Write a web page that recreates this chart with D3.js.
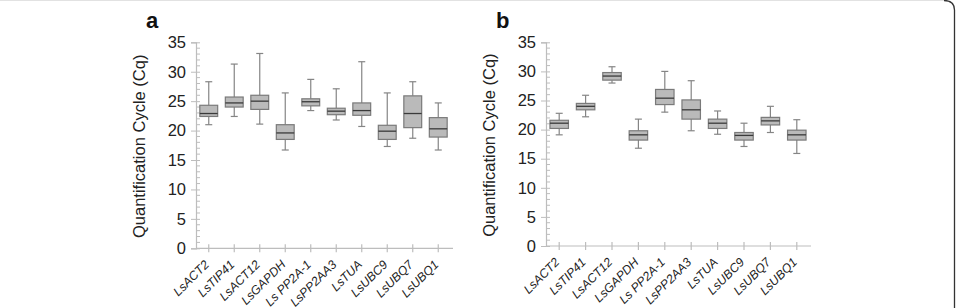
<!DOCTYPE html>
<html><head><meta charset="utf-8">
<script src="https://cdn.jsdelivr.net/npm/d3@7"></script>
<style>
html,body{margin:0;padding:0;background:#fff;}
svg text{font-family:"Liberation Sans",Arial,sans-serif;}
</style></head>
<body><svg id="c" width="959" height="308"></svg>
<script>
const categories = ["LsACT2","LsTIP41","LsACT12","LsGAPDH","Ls PP2A-1","LsPP2AA3","LsTUA","LsUBC9","LsUBQ7","LsUBQ1"];
// panel a: [whisker low, Q1, median, Q3, whisker high]
const aMin = [21.0, 22.4, 21.1, 16.7, 23.4, 21.8, 20.7, 17.3, 18.7, 16.7];
const aQ1  = [22.4, 24.0, 23.6, 18.5, 24.2, 22.7, 22.6, 18.5, 20.5, 18.9];
const aMed = [22.9, 24.7, 25.0, 19.6, 24.9, 23.3, 23.4, 19.9, 22.9, 20.3];
const aQ3  = [24.3, 25.7, 26.0, 21.0, 25.4, 23.8, 24.7, 20.9, 25.9, 22.2];
const aMax = [28.3, 31.3, 33.1, 26.4, 28.7, 27.1, 31.7, 26.4, 28.3, 24.7];
// panel b
const bMin = [19.1, 22.2, 28.0, 16.8, 23.0, 19.8, 19.2, 17.1, 19.5, 15.9];
const bQ1  = [20.2, 23.4, 28.5, 18.2, 24.3, 21.8, 20.2, 18.2, 20.8, 18.2];
const bMed = [21.1, 24.0, 29.2, 19.1, 25.4, 23.4, 21.1, 19.0, 21.5, 19.1];
const bQ3  = [21.6, 24.5, 29.8, 19.8, 26.9, 25.1, 21.8, 19.5, 22.1, 19.9];
const bMax = [22.8, 25.9, 30.8, 21.8, 30.0, 28.4, 23.2, 21.1, 24.0, 21.7];
const yTicks = [0,5,10,15,20,25,30,35];
const yLabel = "Quantification  Cycle  (Cq)";

const svg = d3.select("#c");
// frame
svg.append("line").attr("x1",0).attr("x2",946).attr("y1",0.5).attr("y2",0.5).attr("stroke","#e2e2e2").attr("stroke-width",1);
svg.append("path").attr("d","M944,0.5 Q954.5,0.5 954.5,10 L954.5,308").attr("fill","none").attr("stroke","#333").attr("stroke-width",1.3);

function panel(opts){
  const {x0,x1,axisEnd,y0,y35,letter,mins,q1,med,q3,maxs} = opts;
  const g = svg.append("g");
  const y = d3.scaleLinear().domain([0,35]).range([y0,y35]);
  const x = d3.scaleBand().domain(categories).range([x0,x1]);
  const axisCol = "#bdbdbd";
  // minor ticks
  const minor = d3.range(0,36,1).filter(v=>v%5!==0);
  g.selectAll(".mn").data(minor).enter().append("line")
    .attr("x1",x0).attr("x2",x0+4).attr("y1",d=>y(d)).attr("y2",d=>y(d))
    .attr("stroke",axisCol).attr("stroke-width",1);
  // y axis
  const ya = g.append("g").attr("transform",`translate(${x0},0)`)
    .call(d3.axisLeft(y).tickValues(yTicks).tickSize(5).tickPadding(5));
  ya.select(".domain").attr("stroke",axisCol).attr("stroke-width",1.2);
  ya.selectAll(".tick line").attr("stroke",axisCol).attr("x2",-5).attr("x1",4);
  ya.selectAll("text").attr("font-size",16.5).attr("fill","#222")
    .attr("font-family","Liberation Sans, Arial, sans-serif");
  // x axis
  g.append("line").attr("x1",x0).attr("x2",axisEnd).attr("y1",y0).attr("y2",y0)
    .attr("stroke",axisCol).attr("stroke-width",1.2);
  g.selectAll(".xt").data(categories).enter().append("line")
    .attr("x1",d=>x(d)+x.bandwidth()/2).attr("x2",d=>x(d)+x.bandwidth()/2)
    .attr("y1",y0-4).attr("y2",y0+4).attr("stroke",axisCol).attr("stroke-width",1.2);
  g.selectAll(".xl").data(categories).enter().append("text")
    .attr("transform",d=>`translate(${x(d)+x.bandwidth()/2+1},${y0+17}) rotate(-45)`)
    .attr("text-anchor","end").attr("font-size",12.3).attr("font-style","italic").attr("fill","#222")
    .text(d=>d);
  // y label
  g.append("text").attr("transform",`translate(${x0-51},${(y0+y35)/2+1}) rotate(-90)`)
    .attr("text-anchor","middle").attr("font-size",16.5).attr("fill","#222").text(yLabel);
  // letter
  g.append("text").attr("x",x0-50).attr("y",28).attr("font-size",22).attr("font-weight","bold")
    .attr("fill","#111").text(letter);
  // boxes
  const bw = x.bandwidth()*0.7, cw = 7;
  categories.forEach((c,i)=>{
    const cx = x(c)+x.bandwidth()/2;
    const col = "#858585";
    g.append("line").attr("x1",cx).attr("x2",cx).attr("y1",y(maxs[i])).attr("y2",y(q3[i])).attr("stroke",col).attr("stroke-width",1.2);
    g.append("line").attr("x1",cx).attr("x2",cx).attr("y1",y(q1[i])).attr("y2",y(mins[i])).attr("stroke",col).attr("stroke-width",1.2);
    g.append("line").attr("x1",cx-cw/2).attr("x2",cx+cw/2).attr("y1",y(maxs[i])).attr("y2",y(maxs[i])).attr("stroke",col).attr("stroke-width",1.2);
    g.append("line").attr("x1",cx-cw/2).attr("x2",cx+cw/2).attr("y1",y(mins[i])).attr("y2",y(mins[i])).attr("stroke",col).attr("stroke-width",1.2);
    g.append("rect").attr("x",cx-bw/2).attr("width",bw).attr("y",y(q3[i])).attr("height",y(q1[i])-y(q3[i]))
      .attr("fill","#bababa").attr("stroke","#7a7a7a").attr("stroke-width",1.2);
    g.append("line").attr("x1",cx-bw/2).attr("x2",cx+bw/2).attr("y1",y(med[i])).attr("y2",y(med[i]))
      .attr("stroke","#3a3a3a").attr("stroke-width",1.3);
  });
}
panel({x0:196,x1:451,axisEnd:453,y0:248.3,y35:42.3,letter:"a",mins:aMin,q1:aQ1,med:aMed,q3:aQ3,maxs:aMax});
panel({x0:546,x1:810,axisEnd:811,y0:246,y35:42.3,letter:"b",mins:bMin,q1:bQ1,med:bMed,q3:bQ3,maxs:bMax});
</script></body></html>
